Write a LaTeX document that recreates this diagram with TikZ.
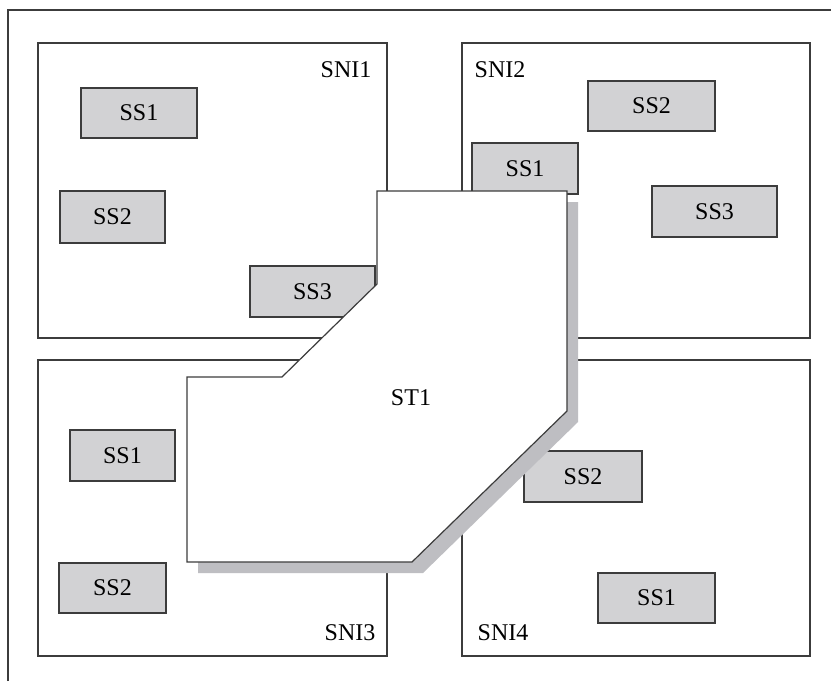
\documentclass[tikz,border=0pt]{standalone}
\usepackage{fontspec}
\setmainfont{Liberation Serif}
\usepackage{tikz}
\usepackage{xcolor}
\usetikzlibrary{positioning}
\definecolor{boxgray}{RGB}{210,210,212}
\definecolor{shadowgray}{RGB}{190,190,194}
\definecolor{linegray}{RGB}{60,60,60}
\begin{document}
\begin{tikzpicture}[x=1pt,y=-1pt,
	snibox/.style={draw=linegray,line width=1.2pt,fill=white},
	ssbox/.style={draw=linegray,line width=1.2pt,fill=boxgray,inner sep=0pt,font=\fontsize{24}{28}\selectfont},
	snilabel/.style={inner sep=0pt,font=\fontsize{24}{28}\selectfont}]
	\useasboundingbox (0,0) rectangle (831,681);
	% outer frame (only top and left visible)
	\draw[linegray,line width=1.2pt] (8,681) -- (8,10) -- (831,10);
	% sub-network regions
	\draw[snibox] (38,43) rectangle (387,338);
	\draw[snibox] (462,43) rectangle (810,338);
	\draw[snibox] (38,360) rectangle (387,656);
	\draw[snibox] (462,360) rectangle (810,656);
	\node[snilabel] (sni1) at (346,70) {SNI1};
	\node[snilabel] (sni2) at (500,70) {SNI2};
	\node[snilabel] (sni3) at (350,633) {SNI3};
	\node[snilabel] (sni4) at (503,633) {SNI4};
	% SNI1 boxes
	\node[ssbox,minimum width=116pt,minimum height=50pt] (ssa1) at (139,113) {SS1};
	\node[ssbox,minimum width=105pt,minimum height=52pt] (ssa2) at (112.5,217) {SS2};
	\node[ssbox,minimum width=125pt,minimum height=51pt] (ssa3) at (312.5,291.5) {SS3};
	% SNI2 boxes
	\node[ssbox,minimum width=106pt,minimum height=51pt] (ssb1) at (525,168.5) {SS1};
	\node[ssbox,minimum width=127pt,minimum height=50pt] (ssb2) at (651.5,106) {SS2};
	\node[ssbox,minimum width=125pt,minimum height=51pt] (ssb3) at (714.5,211.5) {SS3};
	% SNI3 boxes
	\node[ssbox,minimum width=105pt,minimum height=51pt] (ssc1) at (122.5,455.5) {SS1};
	\node[ssbox,minimum width=107pt,minimum height=50pt] (ssc2) at (112.5,588) {SS2};
	% SNI4 boxes
	\node[ssbox,minimum width=118pt,minimum height=51pt] (ssd2) at (583,476.5) {SS2};
	\node[ssbox,minimum width=117pt,minimum height=50pt] (ssd1) at (656.5,598) {SS1};
	% ST1 outline and its shadow
	\coordinate (t1) at (377,191);
	\coordinate (t2) at (567,191);
	\coordinate (t3) at (567,411);
	\coordinate (t4) at (412,562);
	\coordinate (t5) at (187,562);
	\coordinate (t6) at (187,377);
	\coordinate (t7) at (282,377);
	\coordinate (t8) at (377,284);
	\fill[shadowgray] ([shift={(11,11)}]t1) -- ([shift={(11,11)}]t2) -- ([shift={(11,11)}]t3) -- ([shift={(11,11)}]t4)
		-- ([shift={(11,11)}]t5) -- ([shift={(11,11)}]t6) -- ([shift={(11,11)}]t7) -- ([shift={(11,11)}]t8) -- cycle;
	\filldraw[draw=linegray,fill=white,line width=1.2pt] (t1) -- (t2) -- (t3) -- (t4) -- (t5) -- (t6) -- (t7) -- (t8) -- cycle;
	\node[snilabel] (st1) at (411,398) {ST1};
\end{tikzpicture}
\end{document}
